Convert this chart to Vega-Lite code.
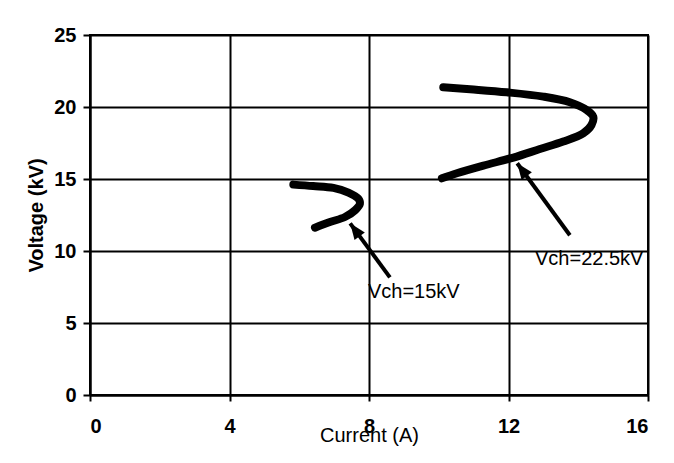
{
  "$schema": "https://vega.github.io/schema/vega-lite/v6.json",
  "width": 558,
  "height": 360,
  "autosize": {"type": "none"},
  "padding": {"left": 90, "top": 35, "right": 26, "bottom": 68},
  "background": "white",
  "config": {
    "font": "Liberation Sans",
    "view": {"stroke": "black", "strokeWidth": 2},
    "axis": {
      "grid": true,
      "gridColor": "black",
      "gridWidth": 2,
      "gridOpacity": 1,
      "domainColor": "black",
      "domainWidth": 2,
      "tickColor": "black",
      "tickWidth": 2,
      "labelFont": "Liberation Sans",
      "labelFontWeight": "bold",
      "labelFontSize": 20,
      "labelColor": "black",
      "titleFont": "Liberation Sans",
      "titleFontSize": 20,
      "titleColor": "black"
    }
  },
  "datasets": {
    "curves": [
      {"series": "A", "order": 1, "current": 5.83, "voltage": 14.61},
      {"series": "A", "order": 2, "current": 6.40, "voltage": 14.51},
      {"series": "A", "order": 3, "current": 6.98, "voltage": 14.38},
      {"series": "A", "order": 4, "current": 7.41, "voltage": 14.06},
      {"series": "A", "order": 5, "current": 7.69, "voltage": 13.64},
      {"series": "A", "order": 6, "current": 7.74, "voltage": 13.29},
      {"series": "A", "order": 7, "current": 7.60, "voltage": 12.83},
      {"series": "A", "order": 8, "current": 7.31, "voltage": 12.36},
      {"series": "A", "order": 9, "current": 6.88, "voltage": 12.01},
      {"series": "A", "order": 10, "current": 6.45, "voltage": 11.62},
      {"series": "B", "order": 1, "current": 10.13, "voltage": 21.37},
      {"series": "B", "order": 2, "current": 10.90, "voltage": 21.23},
      {"series": "B", "order": 3, "current": 11.95, "voltage": 21.02},
      {"series": "B", "order": 4, "current": 13.00, "voltage": 20.72},
      {"series": "B", "order": 5, "current": 13.76, "voltage": 20.33},
      {"series": "B", "order": 6, "current": 14.24, "voltage": 19.79},
      {"series": "B", "order": 7, "current": 14.43, "voltage": 19.33},
      {"series": "B", "order": 8, "current": 14.38, "voltage": 18.75},
      {"series": "B", "order": 9, "current": 14.14, "voltage": 18.17},
      {"series": "B", "order": 10, "current": 13.57, "voltage": 17.60},
      {"series": "B", "order": 11, "current": 12.90, "voltage": 17.08},
      {"series": "B", "order": 12, "current": 12.14, "voltage": 16.49},
      {"series": "B", "order": 13, "current": 11.28, "voltage": 15.93},
      {"series": "B", "order": 14, "current": 10.52, "voltage": 15.40},
      {"series": "B", "order": 15, "current": 10.09, "voltage": 15.05}
    ],
    "arrows": [
      {"label": "Vch=15kV", "tailX": 8.60, "tailY": 8.17, "headX": 7.46, "headY": 11.92, "textX": 7.97, "textY": 6.72},
      {"label": "Vch=22.5kV", "tailX": 13.76, "tailY": 11.09, "headX": 12.25, "headY": 16.09, "textX": 12.76, "textY": 9.02}
    ]
  },
  "layer": [
    {
      "data": {"name": "curves"},
      "mark": {"type": "line", "color": "black", "strokeWidth": 8, "interpolate": "catmull-rom", "strokeCap": "round"},
      "encoding": {
        "x": {
          "field": "current", "type": "quantitative",
          "scale": {"domain": [0, 16], "nice": false},
          "axis": {
            "values": [0, 4, 8, 12, 16],
            "title": "Current (A)",
            "tickSize": 6,
            "labelPadding": 15,
            "titleFontWeight": "normal",
            "titleX": 279,
            "titleY": 40,
            "titleBaseline": "middle"
          }
        },
        "y": {
          "field": "voltage", "type": "quantitative",
          "scale": {"domain": [0, 25], "nice": false},
          "axis": {
            "values": [0, 5, 10, 15, 20, 25],
            "title": "Voltage (kV)",
            "tickSize": 7,
            "labelPadding": 7,
            "titleFontWeight": "bold",
            "titleX": -54,
            "titleY": 180,
            "titleBaseline": "middle"
          }
        },
        "detail": {"field": "series"},
        "order": {"field": "order", "type": "quantitative"}
      }
    },
    {
      "data": {"name": "arrows"},
      "mark": {"type": "rule", "color": "black", "strokeWidth": 4},
      "encoding": {
        "x": {"field": "tailX", "type": "quantitative"},
        "y": {"field": "tailY", "type": "quantitative"},
        "x2": {"field": "headX"},
        "y2": {"field": "headY"}
      }
    },
    {
      "data": {"name": "arrows"},
      "mark": {"type": "point", "shape": "M0,0 L0.4,1 L-0.4,1 Z", "filled": true, "color": "black", "opacity": 1, "size": 1024, "angle": 323.5},
      "encoding": {
        "x": {"field": "headX", "type": "quantitative"},
        "y": {"field": "headY", "type": "quantitative"}
      }
    },
    {
      "data": {"name": "arrows"},
      "mark": {"type": "text", "align": "left", "baseline": "alphabetic", "fontSize": 20, "font": "Liberation Sans", "color": "black"},
      "encoding": {
        "x": {"field": "textX", "type": "quantitative"},
        "y": {"field": "textY", "type": "quantitative"},
        "text": {"field": "label"}
      }
    }
  ]
}
